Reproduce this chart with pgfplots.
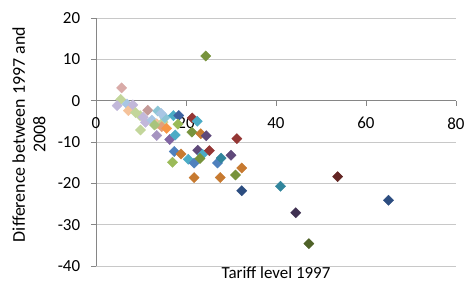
\documentclass[border=0pt]{standalone}
\usepackage{pgfplots}
\pgfplotsset{compat=1.18}
\usepackage{pgfplotstable}
\usepackage{fontspec}
\setmainfont{Carlito}
\definecolor{axisgray}{RGB}{134,134,134}
\definecolor{gridgray}{RGB}{200,200,200}
\definecolor{cb1}{HTML}{4F81BD}
\definecolor{cb2}{HTML}{3D62A0}
\definecolor{cn1}{HTML}{2C4D80}
\definecolor{cm1}{HTML}{943634}
\definecolor{cm2}{HTML}{632523}
\definecolor{cg1}{HTML}{9BBB59}
\definecolor{cg2}{HTML}{77933C}
\definecolor{cg3}{HTML}{4F6228}
\definecolor{cp1}{HTML}{8064A2}
\definecolor{cp2}{HTML}{5F497A}
\definecolor{cp3}{HTML}{403152}
\definecolor{ct1}{HTML}{4BACC6}
\definecolor{ct2}{HTML}{31859C}
\definecolor{co1}{HTML}{F79646}
\definecolor{co2}{HTML}{C77A30}
\definecolor{clp}{HTML}{D9ABA8}
\definecolor{clp2}{HTML}{C49A98}
\definecolor{clg}{HTML}{C3D69B}
\definecolor{clg2}{HTML}{A8C47C}
\definecolor{cll}{HTML}{C2B8DA}
\definecolor{clpu}{HTML}{A593C0}
\definecolor{clb}{HTML}{A9C6E4}
\definecolor{clt}{HTML}{8CC5D5}
\definecolor{clo}{HTML}{F5C29A}
\definecolor{clo2}{HTML}{E2A07C}
\pgfplotstableread{
x y c
5.7 3.1 lp
5.5 0.3 lg
4.7 -1.2 ll
6.9 -0.8 lb
7.2 -2.4 lo
8.2 -1.0 ll
8.8 -2.9 lg
9.8 -3.6 lg
10.5 -4.0 ll
9.9 -7.1 lg
11.5 -2.3 lp2
13.7 -2.5 lt
11.0 -5.2 ll
12.4 -4.7 lb
13.5 -5.6 lo
14.9 -5.2 lg
15.3 -4.1 lt
13.5 -8.4 lpu
14.6 -6.3 lo2
13.0 -5.9 lg2
15.7 -6.7 o1
14.5 -3.1 lb
16.4 -9.4 p1
17.6 -8.3 t1
17.2 -3.6 t1
18.4 -3.6 b2
18.2 -5.7 g1
21.4 -4.2 m1
22.5 -5.0 t1
21.3 -7.6 g2
23.3 -8.0 o2
24.5 -8.5 p2
31.3 -9.2 m1
24.4 10.8 g2
17.4 -12.3 b1
18.9 -12.9 o2
17.0 -14.9 g1
20.5 -14.2 t1
21.8 -15.1 b1
22.6 -12.0 p2
23.7 -13.0 t1
23.1 -14.0 g2
25.2 -12.1 m1
21.8 -18.6 o2
27.6 -18.6 o2
27.0 -15.1 b1
27.8 -13.9 t2
30.0 -13.2 p2
31.0 -18.0 g2
32.4 -16.3 o2
32.4 -21.8 n1
41.0 -20.7 t2
53.7 -18.4 m2
65.0 -24.1 n1
44.4 -27.1 p3
47.3 -34.6 g3
}\pts
\begin{document}
\fontsize{17}{20}\selectfont
\begin{tikzpicture}
\begin{axis}[
 width=360bp, height=248bp, scale only axis,
 xmin=0, xmax=80, ymin=-40, ymax=20,
 axis x line=middle, axis y line=left,
 hide obscured x ticks=false, hide obscured y ticks=false,
 axis line style={-, draw=axisgray, line width=0.75pt},
 xtick={0,20,...,80}, ytick={-40,-30,...,20},
 ymajorgrids, grid style={gridgray, line width=0.75pt},
 tick align=outside, major tick length=5bp,
 tick style={axisgray, line width=0.75pt},
 /pgf/number format/assume math mode=true,
 tick label style={font=\fontsize{17}{20}\selectfont},
 xticklabel style={anchor=north, yshift=-6bp},
 yticklabel style={anchor=east, xshift=-5bp},
 xlabel={Tariff level 1997},
 ylabel={Difference between 1997 and\\2008},
 xlabel style={at={(axis description cs:0.5,0)}, anchor=north, yshift=1bp, inner sep=2pt, font=\fontsize{17}{20}\selectfont},
 ylabel style={at={(axis description cs:-0.186,0.53)}, anchor=center, rotate=0, align=center, font=\fontsize{18}{20.5}\selectfont},
 clip=false,
]
\coordinate (pa) at (rel axis cs:0,0);
\addplot[scatter, only marks, mark=square*, mark size=3.6bp, mark options={rotate=45},
 point meta=explicit symbolic,
 scatter/classes={
 b1={draw=cb1,fill=cb1}, b2={draw=cb2,fill=cb2}, n1={draw=cn1,fill=cn1},
 m1={draw=cm1,fill=cm1}, m2={draw=cm2,fill=cm2},
 g1={draw=cg1,fill=cg1}, g2={draw=cg2,fill=cg2}, g3={draw=cg3,fill=cg3},
 p1={draw=cp1,fill=cp1}, p2={draw=cp2,fill=cp2}, p3={draw=cp3,fill=cp3},
 t1={draw=ct1,fill=ct1}, t2={draw=ct2,fill=ct2},
 o1={draw=co1,fill=co1}, o2={draw=co2,fill=co2},
 lp={draw=clp,fill=clp}, lp2={draw=clp2,fill=clp2},
 lg={draw=clg,fill=clg}, lg2={draw=clg2,fill=clg2},
 ll={draw=cll,fill=cll}, lpu={draw=clpu,fill=clpu},
 lb={draw=clb,fill=clb}, lt={draw=clt,fill=clt},
 lo={draw=clo,fill=clo}, lo2={draw=clo2,fill=clo2}}
] table[x=x, y=y, meta=c] {\pts};
\end{axis}
\pgfresetboundingbox
\path[use as bounding box] ([xshift=-96bp,yshift=-22bp]pa) rectangle ([xshift=368bp,yshift=266bp]pa);
\end{tikzpicture}
\end{document}
